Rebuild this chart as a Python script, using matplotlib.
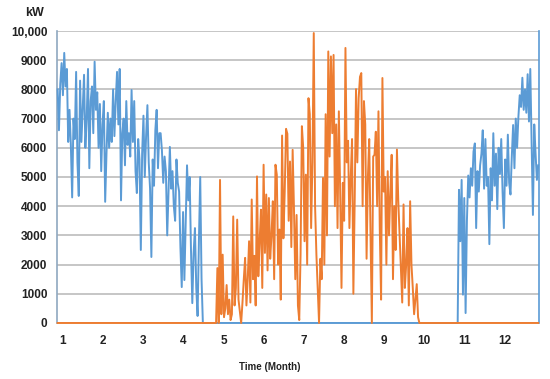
"""
Heating (blue) and cooling (orange) load over one year, daily values in kW
"""
import numpy as np
import matplotlib
matplotlib.use("Agg")
import matplotlib.pyplot as plt

plt.rcParams['font.family'] = ['Liberation Sans', 'DejaVu Sans']

# heating load, days 1-111 (kW)
heat_jan_apr = [
    8000, 6600, 8200, 8900, 7800, 9250, 8100, 8700, 6200, 7300,
    6100, 4300, 7000, 6300, 8600, 5500, 4350, 8300, 6200, 7400,
    8500, 6000, 7000, 8700, 5300, 7600, 8100, 6500, 8950, 7300,
    7900, 6000, 7500, 5200, 6800, 7600, 4150, 5800, 7200, 6000,
    7000, 6200, 8000, 6400, 7600, 8600, 6800, 8700, 4200, 6500,
    7000, 5400, 7600, 6100, 6500, 5700, 7980, 6200, 7600, 5200,
    4450, 6300, 5600, 2500, 5800, 7100, 5000, 6400, 7460, 5500,
    4600, 2260, 5600, 4700, 6600, 7300, 5300, 6500, 6500, 5900,
    4800, 5700, 5200, 3000, 4500, 6030, 4600, 5200, 4000, 3500,
    5600, 4800, 4500, 2600, 1230, 3800, 1470, 3500, 5400, 4200,
    5000, 2500, 680, 2400, 3250, 1200, 240, 2800, 5000, 1500, 0,
]

# cooling load, days 121-275 (kW)
cool_may_oct = [
    0, 1880, 0, 4900, 300, 2340, 200, 500, 1300, 300,
    800, 100, 300, 3650, 600, 1200, 3540, 800, 400, 0,
    700, 1500, 2230, 600, 1540, 2800, 700, 4230, 1500, 2300,
    600, 5020, 1600, 2800, 3880, 1200, 5420, 2400, 4400, 1800,
    4280, 2200, 3000, 4170, 1500, 5420, 5080, 2000, 3200, 800,
    6420, 2900, 4500, 6650, 6480, 3500, 5530, 2600, 5930, 3940,
    1500, 3700, 600, 100, 2340, 6740, 6000, 2800, 5080, 2000,
    7700, 7150, 3250, 5500, 9930, 4000, 2340, 1200, 0, 2200,
    1500, 4970, 2000, 7150, 3000, 9300, 5700, 9130, 6500, 9180,
    4000, 6800, 3250, 7250, 4500, 1200, 4800, 3500, 9420, 5500,
    6240, 3250, 5000, 6300, 1000, 4200, 8010, 5500, 7700, 8430,
    8560, 4000, 7600, 6800, 2200, 5000, 6300, 3000, 0, 5700,
    5760, 6550, 4000, 7250, 3200, 800, 8390, 4500, 5000, 2000,
    5200, 3000, 4500, 5760, 1500, 4000, 2500, 5940, 4200, 3000,
    1800, 700, 4060, 1200, 2000, 3250, 600, 4170, 2000, 1200,
    300, 800, 1330, 200, 0,
]

# heating load, days 305-365 (kW)
heat_nov_dec = [
    4560, 2800, 4900, 970, 4280, 340, 3500, 5050, 4300, 5300,
    4700, 5870, 6150, 3250, 5200, 4500, 5400, 5800, 6600, 4600,
    6300, 4700, 5000, 2700, 5300, 4200, 6500, 4700, 5800, 3900,
    6000, 5100, 6300, 4500, 3250, 5600, 4700, 6450, 4800, 4400,
    5700, 6780, 5300, 7000, 6000, 7060, 7800, 7400, 8400, 7300,
    8000, 7200, 8520, 6900, 8700, 6300, 3700, 6800, 5800, 4900, 5400,
]

months = ['1', '2', '3', '4', '5', '6', '7', '8', '9', '10', '11', '12']
y_ticks = [0, 1000, 2000, 3000, 4000, 5000, 6000, 7000, 8000, 9000, 10000]
y_labels = ['0', '1000', '2000', '3000', '4000', '5000', '6000',
            '7000', '8000', '9000', '10,000']

# full year series, zero outside the season
days = np.arange(1, 366)
heating = np.zeros(365)
heating[0:len(heat_jan_apr)] = heat_jan_apr
heating[304:304 + len(heat_nov_dec)] = heat_nov_dec
cooling = np.zeros(365)
cooling[120:120 + len(cool_may_oct)] = cool_may_oct

fig = plt.figure(figsize=(5.5, 3.79), dpi=100)
ax = fig.add_axes([0.1036, 0.1478, 0.8764, 0.7704])

ax.plot(days, heating, color='#5b9bd5', lw=1.4, clip_on=False, zorder=3)
ax.plot(days, cooling, color='#ed7d31', lw=1.4, clip_on=False, zorder=4)

ax.set_xlim(0.5, 365.6)
ax.set_ylim(0, 10000)

ax.set_yticks(y_ticks)
ax.set_yticklabels(y_labels, fontsize=8.5, fontweight='bold')
ax.set_xticks([5 + 30.4 * i for i in range(12)])
ax.set_xticklabels(months, fontsize=8.5, fontweight='bold')
ax.tick_params(axis='both', length=0, labelcolor='#222222')
ax.tick_params(axis='y', pad=7)
ax.tick_params(axis='x', pad=9)

ax.yaxis.grid(True, color='#bcbcbc', lw=1.2)
ax.set_axisbelow(True)

ax.spines['top'].set_visible(False)
ax.spines['bottom'].set_visible(False)
ax.spines['left'].set_color('#8fa8c0')
ax.spines['left'].set_linewidth(1.2)
ax.spines['right'].set_color('#5b9bd5')
ax.spines['right'].set_linewidth(1.2)

fig.text(0.062, 0.966, 'kW', fontsize=9, fontweight='bold',
         ha='center', va='center', color='#222222')
fig.text(0.491, 0.032, 'Time (Month)', fontsize=7, fontweight='bold',
         ha='center', va='center', color='#222222')

fig.savefig('out.png', dpi=100)
